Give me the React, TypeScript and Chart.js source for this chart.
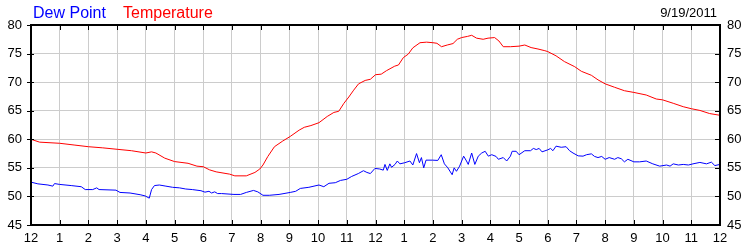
import React, { useEffect, useRef } from "react";
import { Chart, registerables } from "chart.js";

Chart.register(...registerables);

const hourLabels = ["12", "1", "2", "3", "4", "5", "6", "7", "8", "9", "10", "11", "12", "1", "2", "3", "4", "5", "6", "7", "8", "9", "10", "11", "12"];
const yTicks = [45, 50, 55, 60, 65, 70, 75, 80];
const seriesNames = ["Dew Point", "Temperature"];
const dateLabel = "9/19/2011";

const tempHours = [0, 0.3, 1, 1.5, 2, 2.5, 3, 3.5, 4, 4.2, 4.35, 4.66, 5.0, 5.47, 5.78, 6.0, 6.22, 6.45, 6.92, 7.1, 7.5, 7.8, 7.97, 8.08, 8.25, 8.48, 8.77, 9.03, 9.34, 9.52, 9.75, 10.03, 10.32, 10.55, 10.72, 10.9, 11.07, 11.24, 11.41, 11.64, 11.82, 12.0, 12.2, 12.38, 12.67, 12.8, 12.97, 13.14, 13.3, 13.55, 13.78, 14.0, 14.14, 14.3, 14.5, 14.7, 14.85, 15.0, 15.2, 15.35, 15.52, 15.75, 15.92, 16.15, 16.3, 16.45, 16.7, 17.0, 17.2, 17.42, 17.66, 17.9, 18.0, 18.29, 18.58, 18.94, 19.17, 19.52, 19.75, 20.0, 20.33, 20.67, 21.0, 21.43, 21.78, 22.0, 22.37, 22.72, 23.0, 23.3, 23.64, 24.0];
const tempValues = [60.0, 59.5, 59.3, 59.0, 58.7, 58.5, 58.25, 58.0, 57.6, 57.8, 57.6, 56.7, 56.1, 55.8, 55.3, 55.2, 54.65, 54.3, 53.9, 53.6, 53.6, 54.2, 54.8, 55.5, 57.0, 58.7, 59.7, 60.5, 61.6, 62.1, 62.4, 62.9, 64.0, 64.7, 64.9, 66.3, 67.4, 68.6, 69.7, 70.3, 70.5, 71.3, 71.4, 72.0, 72.8, 73.0, 74.3, 74.9, 76.0, 76.9, 77.0, 76.9, 76.8, 76.2, 76.5, 76.75, 77.5, 77.8, 78.0, 78.2, 77.7, 77.5, 77.7, 77.8, 77.2, 76.2, 76.2, 76.3, 76.5, 76.05, 75.8, 75.5, 75.35, 74.6, 73.6, 72.7, 71.9, 71.2, 70.4, 69.7, 69.1, 68.5, 68.2, 67.75, 67.05, 66.9, 66.3, 65.7, 65.35, 65.05, 64.5, 64.2];

const dewHours = [0, 0.24, 0.59, 0.76, 0.82, 1.0, 1.4, 1.75, 1.89, 2.15, 2.29, 2.37, 2.96, 3.1, 3.45, 3.8, 3.97, 4.12, 4.2, 4.3, 4.47, 4.7, 4.93, 5.17, 5.39, 5.62, 5.92, 6.06, 6.2, 6.29, 6.4, 6.5, 6.64, 7.07, 7.3, 7.5, 7.75, 7.9, 8.08, 8.3, 8.64, 9.03, 9.22, 9.38, 9.68, 10.03, 10.2, 10.38, 10.6, 10.78, 11.0, 11.17, 11.4, 11.58, 11.7, 11.82, 11.98, 12.15, 12.27, 12.33, 12.41, 12.5, 12.56, 12.68, 12.76, 12.85, 13.02, 13.2, 13.3, 13.43, 13.53, 13.6, 13.68, 13.76, 13.99, 14.17, 14.29, 14.4, 14.52, 14.67, 14.74, 14.82, 14.93, 15.07, 15.17, 15.23, 15.35, 15.46, 15.58, 15.7, 15.82, 15.93, 16.05, 16.2, 16.28, 16.45, 16.57, 16.7, 16.76, 16.9, 17.0, 17.2, 17.4, 17.5, 17.6, 17.7, 17.8, 18.0, 18.1, 18.18, 18.29, 18.47, 18.64, 18.76, 18.88, 19.06, 19.23, 19.35, 19.52, 19.63, 19.75, 19.88, 20.0, 20.14, 20.33, 20.44, 20.56, 20.67, 20.79, 21.0, 21.2, 21.43, 21.66, 21.9, 22.14, 22.26, 22.37, 22.55, 22.72, 22.9, 23.06, 23.3, 23.53, 23.7, 23.82, 24.0];
const dewValues = [52.5, 52.2, 52.0, 51.8, 52.25, 52.1, 51.9, 51.7, 51.2, 51.2, 51.5, 51.2, 51.1, 50.7, 50.6, 50.3, 50.1, 49.7, 51.2, 51.9, 52.0, 51.8, 51.6, 51.5, 51.3, 51.2, 51.0, 50.75, 50.9, 50.6, 50.8, 50.5, 50.5, 50.35, 50.35, 50.7, 51.05, 50.8, 50.2, 50.2, 50.35, 50.7, 50.9, 51.4, 51.6, 52.0, 51.7, 52.3, 52.4, 52.8, 53.0, 53.5, 54.0, 54.5, 54.2, 54.0, 54.9, 54.8, 54.6, 55.6, 54.55, 55.7, 55.1, 55.6, 56.2, 55.7, 55.9, 56.2, 55.5, 57.5, 55.9, 56.8, 55.0, 56.35, 56.35, 56.3, 57.3, 55.7, 55.0, 53.8, 55.0, 54.4, 55.3, 57.05, 56.2, 55.6, 57.6, 55.6, 57.05, 57.6, 57.9, 57.05, 57.3, 57.0, 56.5, 56.8, 56.2, 57.05, 57.9, 57.9, 57.3, 58.0, 58.0, 58.4, 58.2, 58.4, 57.8, 58.15, 58.4, 58.0, 58.8, 58.6, 58.7, 58.0, 57.6, 57.1, 57.05, 57.3, 57.45, 57.0, 56.8, 57.0, 56.5, 56.8, 56.5, 56.8, 56.6, 56.05, 56.5, 56.05, 56.05, 56.2, 55.7, 55.3, 55.5, 55.3, 55.7, 55.5, 55.6, 55.5, 55.7, 55.95, 55.7, 56.0, 55.4, 55.6];

const FONT = "'Liberation Sans', Arial, sans-serif";

const decor = {
  id: "decor",
  afterDraw(chart: any) {
    const { ctx, chartArea } = chart;
    const { left, right, top, bottom } = chartArea;
    const xs = chart.scales.x;
    const ys = chart.scales.y;
    ctx.save();
    ctx.strokeStyle = "#000";
    ctx.lineWidth = 1;
    ctx.beginPath();
    for (let h = 1; h < hourLabels.length - 1; h++) {
      const px = Math.round(xs.getPixelForValue(h)) + 0.5;
      ctx.moveTo(px, bottom);
      ctx.lineTo(px, bottom - 5);
      ctx.moveTo(px, top);
      ctx.lineTo(px, top + 5);
    }
    for (const v of yTicks) {
      const py = Math.round(ys.getPixelForValue(v)) + 0.5;
      ctx.moveTo(left - 4, py);
      ctx.lineTo(left + 3, py);
      ctx.moveTo(right - 5, py);
      ctx.lineTo(right, py);
    }
    ctx.stroke();
    ctx.lineWidth = 2;
    ctx.strokeRect(left, top, right - left, bottom - top);

    ctx.textBaseline = "alphabetic";
    ctx.textAlign = "left";
    ctx.font = "16px " + FONT;
    ctx.fillStyle = "#0000ff";
    ctx.fillText(seriesNames[0], 33, 18);
    ctx.fillStyle = "#ff0000";
    ctx.fillText(seriesNames[1], 123, 18);
    ctx.font = "13px " + FONT;
    ctx.fillStyle = "#000";
    ctx.textAlign = "right";
    ctx.fillText(dateLabel, 717, 17);
    ctx.restore();
  },
};

export default function App() {
  const ref = useRef<HTMLCanvasElement | null>(null);
  useEffect(() => {
    if (!ref.current) return;
    Chart.defaults.font.family = FONT;
    Chart.defaults.font.size = 13;
    Chart.defaults.color = "#000";
    const chart = new Chart(ref.current, {
      type: "line",
      data: {
        datasets: [
          {
            label: seriesNames[0],
            data: dewHours.map((h, i) => ({ x: h, y: dewValues[i] })),
            borderColor: "#0000ff",
            borderWidth: 1,
            pointRadius: 0,
            tension: 0,
            yAxisID: "y",
          },
          {
            label: seriesNames[1],
            data: tempHours.map((h, i) => ({ x: h, y: tempValues[i] })),
            borderColor: "#ff0000",
            borderWidth: 1,
            pointRadius: 0,
            tension: 0,
            yAxisID: "y",
          },
        ],
      },
      options: {
        animation: false,
        responsive: false,
        events: [],
        layout: { padding: { top: 25, left: 0, right: 0, bottom: 0 } },
        plugins: { legend: { display: false }, tooltip: { enabled: false }, title: { display: false } },
        scales: {
          x: {
            type: "linear",
            min: 0,
            max: 24,
            position: "bottom",
            grid: { color: "#cccccc", lineWidth: 1, drawTicks: false },
            border: { display: false },
            ticks: {
              stepSize: 1,
              autoSkip: false,
              maxRotation: 0,
              padding: 6,
              font: { size: 13 },
              callback: (v: any) => hourLabels[Math.round(Number(v))] ?? "",
            },
            afterFit: (s: any) => { s.height = 25; },
          },
          y: {
            position: "left",
            min: 45,
            max: 80,
            grid: { color: "#cccccc", lineWidth: 1, drawTicks: false },
            border: { display: false },
            ticks: { stepSize: 5, padding: 9, font: { size: 13 } },
            afterFit: (s: any) => { s.width = 31; },
          },
          y2: {
            position: "right",
            min: 45,
            max: 80,
            grid: { display: false, drawTicks: false },
            border: { display: false },
            ticks: { stepSize: 5, padding: 7, font: { size: 13 } },
            afterFit: (s: any) => { s.width = 30; },
          },
        },
      },
      plugins: [decor],
    } as any);
    return () => chart.destroy();
  }, []);
  return (
    <div style={{ position: "absolute", left: 0, top: 0, width: 750, height: 250, background: "#fff" }}>
      <canvas ref={ref} width={750} height={250} style={{ display: "block" }} />
    </div>
  );
}
